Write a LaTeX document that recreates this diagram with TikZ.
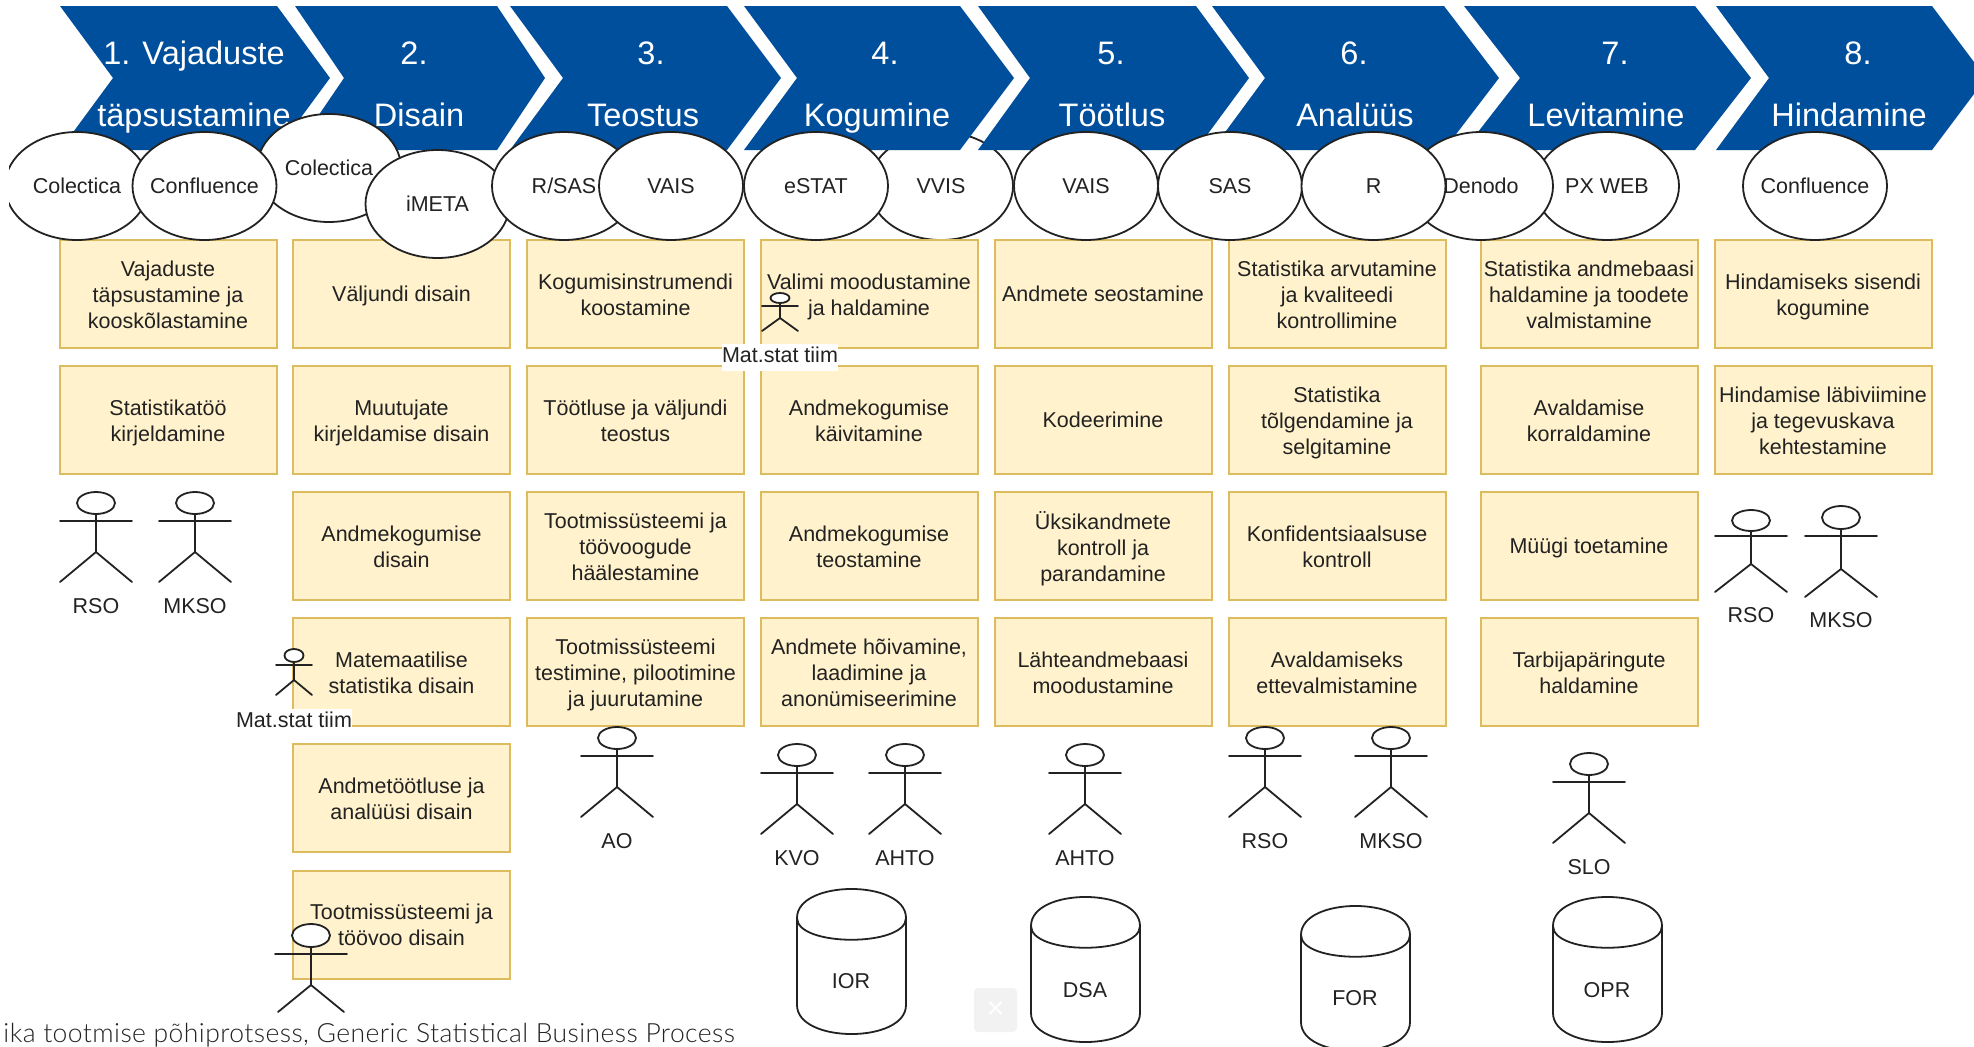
\documentclass[tikz,border=0pt]{standalone}
\usepackage{fontspec}
\setmainfont{Liberation Sans}
\newfontfamily\capfont[LetterSpace=1.6]{Lato Light}
\usetikzlibrary{shapes.geometric}
\definecolor{chev}{HTML}{004F9C}
\definecolor{boxfill}{HTML}{FFF2CC}
\definecolor{boxline}{HTML}{DDBB5F}
\definecolor{ink}{HTML}{222222}
\newcommand{\tl}[1]{\makebox[0pt][c]{\raisebox{-7.7pt}[0pt][0pt]{#1}}}
\tikzset{
  chevshape/.style={fill=chev,draw=none},
  chevtext/.style={text=white,inner sep=0pt,text height=24pt,text depth=8pt,yshift=-3.8pt,font=\fontsize{32.5}{34}\selectfont},
  tool/.style={ellipse,draw=ink,line width=1.8pt,fill=white,minimum width=144pt,minimum height=108pt,inner sep=0pt,text=ink,font=\fontsize{21.5}{26.5}\selectfont},
  taskbox/.style={rectangle,draw=boxline,line width=2pt,fill=boxfill,minimum width=217pt,minimum height=108pt,inner sep=0pt},
  tasktext/.style={inner sep=0pt,align=center,text=ink,font=\fontsize{21.5}{26}\selectfont,execute at begin node=\strut,execute at end node=\strut},
  plainlabel/.style={inner sep=0pt,text=ink,yshift=-2.5pt,font=\fontsize{21.5}{26.5}\selectfont,execute at begin node=\strut},
  actorline/.style={draw=ink,line width=1.8pt,line cap=round},
  drum/.style={draw=ink,line width=1.8pt,fill=white},
}
% name x y text
\newcommand{\tbox}[4]{\node[taskbox] (#1) at (#2,#3) {}; \node[tasktext,yshift=-4.2pt] (#1t) at (#1) {#4};}
\newcommand{\tsingle}[4]{\node[taskbox] (#1) at (#2,#3) {}; \node[tasktext,yshift=-2.4pt] (#1t) at (#1) {#4};}
% x top headbottom arm hip feet headrx foothalf armhalf
\newcommand{\actorfig}[9]{%
  \draw[actorline] (#1-#9,#4) -- (#1+#9,#4);
  \draw[actorline] (#1,#3) -- (#1,#5);
  \draw[actorline] (#1-#8,#6) -- (#1,#5) -- (#1+#8,#6);
  \draw[actorline,fill=white] (#1,{(#2+#3)/2}) ellipse [x radius=#7,y radius={(#3-#2)/2}];
}
\newcommand{\stdactor}[2]{\actorfig{#1}{#2}{#2+22}{#2+29}{#2+60}{#2+90}{19}{36}{36}}
% left top
\newcommand{\drumfig}[2]{%
  \draw[drum] (#1,#2+29) .. controls (#1,#2-9.7) and (#1+109,#2-9.7) .. (#1+109,#2+29)
    -- (#1+109,#2+116) .. controls (#1+109,#2+154.7) and (#1,#2+154.7) .. (#1,#2+116) -- cycle;
  \draw[drum,fill=none] (#1,#2+29) .. controls (#1,#2+58) and (#1+109,#2+58) .. (#1+109,#2+29);
}
% left notch topright tip
\newcommand{\chevfig}[4]{\fill[chevshape] (#1,6) -- (#3,6) -- (#4,78) -- (#3,150) -- (#1,150) -- (#2,78) -- cycle;}
\begin{document}
\begin{tikzpicture}[x=1pt,y=-1pt]
\useasboundingbox (0,0) rectangle (1974,1047);
\clip (0,0) rectangle (1974,1047);
\fill[white] (0,0) rectangle (1974,1047);

% tool hidden behind the chevrons
\node[tool] (tvvis) at (941,186) {\tl{VVIS}};

% chevrons
\chevfig{60}{113}{277}{330}
\chevfig{295}{344}{497}{545}
\chevfig{510}{563}{727}{781}
\chevfig{744}{797}{960}{1014}
\chevfig{978}{1030}{1196}{1249}
\chevfig{1212}{1265}{1444}{1499}
\chevfig{1464}{1520}{1695}{1751}
\chevfig{1716}{1769}{1932}{1986}

\node[chevtext] (c1a) at (194,53) {1. Vajaduste};
\node[chevtext] (c1b) at (194,115) {täpsustamine};
\node[chevtext] (c2a) at (414,53) {2.};
\node[chevtext] (c2b) at (419,115) {Disain};
\node[chevtext] (c3a) at (651,53) {3.};
\node[chevtext] (c3b) at (643,115) {Teostus};
\node[chevtext] (c4a) at (885,53) {4.};
\node[chevtext] (c4b) at (877,115) {Kogumine};
\node[chevtext] (c5a) at (1111,53) {5.};
\node[chevtext] (c5b) at (1112,115) {Töötlus};
\node[chevtext] (c6a) at (1354,53) {6.};
\node[chevtext] (c6b) at (1355,115) {Analüüs};
\node[chevtext] (c7a) at (1615,53) {7.};
\node[chevtext] (c7b) at (1606,115) {Levitamine};
\node[chevtext] (c8a) at (1858,53) {8.};
\node[chevtext] (c8b) at (1849,115) {Hindamine};

% task boxes
\tbox{a1}{168}{294}{Vajaduste\\täpsustamine ja\\kooskõlastamine}
\tbox{a2}{168}{420}{Statistikatöö\\kirjeldamine}

\tsingle{b1}{401.5}{294}{Väljundi disain}
\tbox{b2}{401.5}{420}{Muutujate\\kirjeldamise disain}
\tbox{b3}{401.5}{546}{Andmekogumise\\disain}
\tbox{b4}{401.5}{672}{Matemaatilise\\statistika disain}
\tbox{b5}{401.5}{798}{Andmetöötluse ja\\analüüsi disain}
\tbox{b6}{401.5}{924.5}{Tootmissüsteemi ja\\töövoo disain}

\tbox{d1}{635.5}{294}{Kogumisinstrumendi\\koostamine}
\tbox{d2}{635.5}{420}{Töötluse ja väljundi\\teostus}
\tbox{d3}{635.5}{546}{Tootmissüsteemi ja\\töövoogude\\häälestamine}
\tbox{d4}{635.5}{672}{Tootmissüsteemi\\testimine, pilootimine\\ja juurutamine}

\tbox{e1}{869}{294}{Valimi moodustamine\\ja haldamine}
\tbox{e2}{869}{420}{Andmekogumise\\käivitamine}
\tbox{e3}{869}{546}{Andmekogumise\\teostamine}
\tbox{e4}{869}{672}{Andmete hõivamine,\\laadimine ja\\anonümiseerimine}

\tsingle{f1}{1103}{294}{Andmete seostamine}
\tsingle{f2}{1103}{420}{Kodeerimine}
\tbox{f3}{1103}{546}{Üksikandmete\\kontroll ja\\parandamine}
\tbox{f4}{1103}{672}{Lähteandmebaasi\\moodustamine}

\tbox{g1}{1337}{294}{Statistika arvutamine\\ja kvaliteedi\\kontrollimine}
\tbox{g2}{1337}{420}{Statistika\\tõlgendamine ja\\selgitamine}
\tbox{g3}{1337}{546}{Konfidentsiaalsuse\\kontroll}
\tbox{g4}{1337}{672}{Avaldamiseks\\ettevalmistamine}

\tbox{h1}{1589}{294}{Statistika andmebaasi\\haldamine ja toodete\\valmistamine}
\tbox{h2}{1589}{420}{Avaldamise\\korraldamine}
\tsingle{h3}{1589}{546}{Müügi toetamine}
\tbox{h4}{1589}{672}{Tarbijapäringute\\haldamine}

\tbox{i1}{1823}{294}{Hindamiseks sisendi\\kogumine}
\tbox{i2}{1823}{420}{Hindamise läbiviimine\\ja tegevuskava\\kehtestamine}

% tools
\node[tool] (tcol1) at (77,186) {\tl{Colectica}};
\node[tool] (tcol2) at (329,168) {\tl{Colectica}};
\node[tool] (tcon1) at (204.5,186) {\tl{Confluence}};
\node[tool] (timeta) at (437.5,204) {\tl{iMETA}};
\node[tool] (trsas) at (564,186) {\tl{R/SAS}};
\node[tool] (tvais1) at (671,186) {\tl{VAIS}};
\node[tool] (testat) at (816,186) {\tl{eSTAT}};
\node[tool] (tvais2) at (1086,186) {\tl{VAIS}};
\node[tool] (tsas) at (1230,186) {\tl{SAS}};
\node[tool] (tpx) at (1607,186) {\tl{PX WEB}};
\node[tool] (tden) at (1481,186) {\tl{Denodo}};
\node[tool] (tr) at (1373.5,186) {\tl{R}};
\node[tool] (tcon2) at (1815,186) {\tl{Confluence}};
\fill[white] (0,120) rectangle (9,250);

% actors
\stdactor{96}{492}
\node[plainlabel] (l1) at (96,606) {RSO};
\stdactor{195}{492}
\node[plainlabel] (l2) at (195,606) {MKSO};

\actorfig{294}{649}{662}{665}{680}{695}{9.5}{18}{18}
\node[plainlabel,fill=white,minimum height=24pt] (l3) at (294,720) {Mat.stat tiim};
\actorfig{311}{924}{947}{954}{985}{1012}{19}{33}{36}

\stdactor{617}{727}
\node[plainlabel] (l4) at (617,841) {AO};

\actorfig{780}{293}{303}{306}{318}{331}{9.5}{18}{18}
\node[plainlabel,fill=white,minimum height=24pt] (l5) at (780,355) {Mat.stat tiim};

\stdactor{797}{744}
\node[plainlabel] (l6) at (797,858) {KVO};
\stdactor{905}{744}
\node[plainlabel] (l7) at (905,858) {AHTO};
\stdactor{1085}{744}
\node[plainlabel] (l8) at (1085,858) {AHTO};
\stdactor{1265}{727}
\node[plainlabel] (l9) at (1265,841) {RSO};
\stdactor{1391}{727}
\node[plainlabel] (l10) at (1391,841) {MKSO};
\stdactor{1589}{753}
\node[plainlabel] (l11) at (1589,867) {SLO};
\actorfig{1751}{510}{531}{536}{564}{592}{19}{36}{36}
\node[plainlabel] (l12) at (1751,615) {RSO};
\actorfig{1841}{506}{529}{536}{569}{597}{19}{36}{36}
\node[plainlabel] (l13) at (1841,620) {MKSO};

% databases
\drumfig{797}{889}
\node[plainlabel] (dior) at (851,981) {IOR};
\drumfig{1031}{897}
\node[plainlabel] (ddsa) at (1085,990) {DSA};
\drumfig{1301}{906}
\node[plainlabel] (dfor) at (1355,998) {FOR};
\drumfig{1553}{897}
\node[plainlabel] (dopr) at (1607,990) {OPR};

% close button
\node[rectangle,rounded corners=4pt,fill=black!5,minimum width=43pt,minimum height=44pt,inner sep=0pt,text=white,font=\fontsize{30}{30}\selectfont] (xbtn) at (995.5,1010) {×};

% caption
\node[anchor=east,inner sep=0pt,text=ink,font=\capfont\fontsize{26.5}{30}\selectfont] (cap) at (735,1035) {ika tootmise põhiprotsess, Generic Statistical Business Process};
\end{tikzpicture}
\end{document}
